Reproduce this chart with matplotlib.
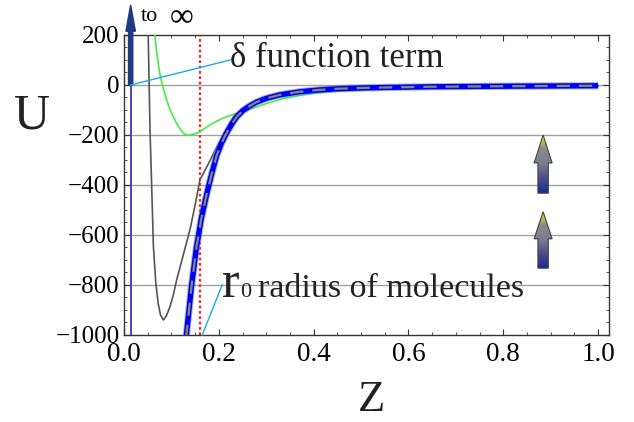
"""Potential U(Z) near a wall: delta function term plus molecular radius cut-off."""

import matplotlib
matplotlib.use("Agg")
import matplotlib.pyplot as plt
import numpy as np
from matplotlib.patches import Polygon, FancyArrow
from matplotlib.colors import LinearSegmentedColormap

SERIF = ["Liberation Serif", "DejaVu Serif"]
plt.rcParams["font.family"] = SERIF

# green: shallow well
green_z = [0.061, 0.065, 0.070, 0.076, 0.083, 0.090, 0.097, 0.104, 0.111, 0.118,
           0.125, 0.132, 0.139, 0.146, 0.153, 0.160, 0.170, 0.181, 0.195, 0.210,
           0.230, 0.250, 0.265, 0.283, 0.301, 0.335, 0.371, 0.40, 0.441, 0.50,
           0.55, 0.60, 0.70, 0.80, 0.90, 1.00]
green_u = [300, 200, 115, 40, -15, -60, -98, -128, -153, -175,
           -192, -200, -200, -197, -193, -187, -174, -160, -145, -132,
           -118, -106, -98, -86, -74, -55, -42, -34, -26, -20,
           -16, -13, -9, -7, -5, -4]

# dark grey: deep well
black_z = [0.049, 0.051, 0.055, 0.058, 0.062, 0.067, 0.072, 0.077, 0.083, 0.089,
           0.097, 0.104, 0.111, 0.125, 0.139, 0.150, 0.160, 0.178, 0.196, 0.213,
           0.231, 0.245, 0.265, 0.285, 0.301, 0.33, 0.36, 0.40, 0.45, 0.50,
           0.60, 0.70, 0.80, 0.90, 1.00]
black_u = [300, 200, -193, -380, -647, -790, -873, -920, -940, -925,
           -887, -840, -780, -680, -580, -480, -380, -315, -247, -187,
           -127, -102, -82, -66, -55, -41, -33, -26, -19, -15,
           -11, -8, -6, -5, -4]

# thick blue: cut-off potential
blue_z = [0.124, 0.132, 0.142, 0.153, 0.163, 0.174, 0.185, 0.195, 0.205, 0.216,
          0.227, 0.238, 0.251, 0.265, 0.280, 0.301, 0.33, 0.371, 0.41, 0.45,
          0.50, 0.55, 0.65, 0.80, 1.00]
blue_u = [-1100, -993, -810, -647, -535, -440, -355, -285, -235, -193,
          -157, -127, -102, -84, -68, -53, -39, -27, -20, -15,
          -12, -10, -7, -5, -3]

R0 = 0.16          # molecular radius
DELTA_Z = 0.014    # position of the delta function term

xticks = [0.0, 0.2, 0.4, 0.6, 0.8, 1.0]
yticks = [200, 0, -200, -400, -600, -800, -1000]

fig = plt.figure(figsize=(6.34, 4.22), dpi=100)
ax = fig.add_axes([0.1956, 0.2062, 0.765, 0.7109])
ax.set_xlim(0, 1.023)
ax.set_ylim(-1000, 200)

for y in yticks[1:-1]:
    ax.axhline(y, color="#a0a0a0", lw=1.0, zorder=1)

ax.plot(green_z, green_u, color="#44ee44", lw=1.2, zorder=3)
ax.plot(black_z, black_u, color="#555555", lw=1.2, zorder=3)
ax.plot(blue_z, blue_u, color="#5a78ff", lw=5.2, alpha=0.6, zorder=4,
        solid_capstyle="butt")
ax.plot(blue_z, blue_u, color="#0000ee", lw=3.8, zorder=4, solid_capstyle="butt")
ax.plot(blue_z, blue_u, color="#8a8a6a", lw=1.6, dashes=(6, 4), zorder=5)

ax.axvline(R0, color="#ff2020", lw=1.6, dashes=(1.2, 1.2), zorder=2)
ax.plot([DELTA_Z, DELTA_Z], [0, -1000], color="#4848b8", lw=1.4, zorder=3)
ax.add_patch(FancyArrow(DELTA_Z, 0, 0, 320, width=0.009, head_width=0.02,
                        head_length=105, length_includes_head=True,
                        color="#1f3a80", clip_on=False, zorder=6))
ax.text(0.036, 255, "to", fontsize=16, va="baseline", clip_on=False)
ax.text(0.122, 270, "\u221e", fontsize=24, ha="center", va="center",
        clip_on=False)

# annotations
ax.plot([DELTA_Z, 0.224], [0, 100], color="#20a8e8", lw=1.0, zorder=6)
ax.text(0.224, 72, "\u03b4 function term", fontsize=25, va="baseline",
        color="#222222", zorder=7)
ax.plot([R0 + 0.005, 0.207], [-1000, -800], color="#20a8e8", lw=1.0, zorder=6,
        clip_on=False)
ax.text(0.207, -848, "r", fontsize=38, va="baseline", color="#222222", zorder=7)
ax.text(0.245, -848, "0", fontsize=16, va="baseline", color="#222222", zorder=7)
ax.text(0.283, -848, "radius of molecules", fontsize=24.5, va="baseline",
        color="#222222", zorder=7)

# gradient arrows
cmap = LinearSegmentedColormap.from_list(
    "arr", ["#1c2a90", "#4a4e8a", "#7c7c92", "#8a8888", "#f4ea10"])
grad = np.linspace(0, 1, 100).reshape(-1, 1)
for tip, base in [(-200, -433), (-507, -733)]:
    xc = 0.884
    hw, sw, hl = 0.019, 0.011, 0.48 * (tip - base)
    pts = [(xc, tip), (xc + hw, tip - hl), (xc + sw, tip - hl), (xc + sw, base),
           (xc - sw, base), (xc - sw, tip - hl), (xc - hw, tip - hl)]
    poly = Polygon(pts, closed=True, facecolor="none", edgecolor="#444444",
                   lw=0.8, zorder=8)
    ax.add_patch(poly)
    im = ax.imshow(grad, cmap=cmap, aspect="auto", origin="lower",
                   extent=[xc - hw, xc + hw, base, tip], zorder=7)
    im.set_clip_path(poly)

ax.set_xticks(xticks)
ax.set_xticklabels([f"{t:.1f}" for t in xticks])
ax.set_yticks(yticks)
ax.set_yticklabels([f"{t}".replace("-", "\u2212") for t in yticks])
ax.set_xticks(np.arange(0, 1.02, 0.05), minor=True)
ax.set_yticks(np.arange(-1000, 201, 50), minor=True)
ax.tick_params(which="both", direction="in", top=True, right=True,
               colors="#333333", labelcolor="black")
ax.tick_params(axis="x", which="major", length=4, pad=5, labelsize=19.5)
ax.tick_params(axis="y", which="major", length=4, pad=3, labelsize=18)
ax.tick_params(which="minor", length=2.5)
for s in ax.spines.values():
    s.set_color("#333333")
    s.set_linewidth(1.0)

fig.text(32 / 634, 1 - 116 / 422, "U", fontsize=36, ha="center", va="center",
         color="#222222")
fig.text(372 / 634, 1 - 420 / 422, "Z", fontsize=32, ha="center", va="bottom",
         color="#222222")

fig.savefig("out.png", dpi=100)
